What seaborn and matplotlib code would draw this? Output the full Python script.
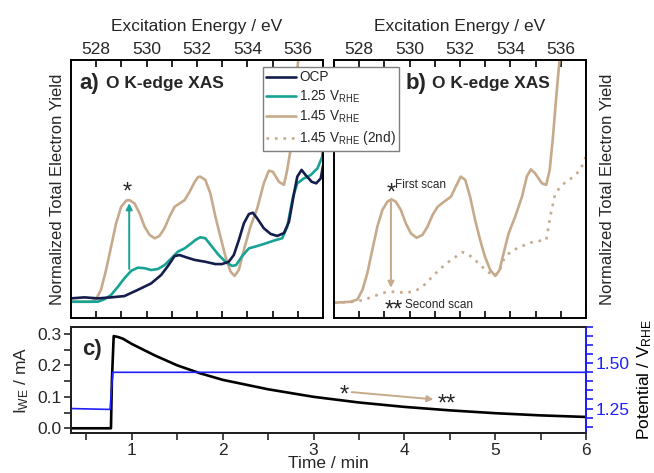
import numpy as np
import pandas as pd
import matplotlib
matplotlib.use("Agg")
import matplotlib.pyplot as plt
from matplotlib.lines import Line2D
import seaborn as sns

# ---------------- data ----------------
# panel a (normalized TEY, 0..1 of the axis height)
e_tan_a = [527.00, 527.80, 527.99, 528.19, 528.39, 528.59, 528.79, 528.99, 529.19, 529.32,
           529.52, 529.72, 529.92, 530.12, 530.32, 530.51, 530.71, 530.91, 531.11, 531.31,
           531.51, 531.71, 531.91, 532.04, 532.13, 532.33, 532.53, 532.73, 532.93, 533.13,
           533.33, 533.49, 533.66, 533.86, 534.12, 534.39, 534.65, 534.85, 535.01, 535.25,
           535.45, 535.58, 535.71, 535.85, 536.02, 536.30]
y_tan_a = [0.063, 0.063, 0.072, 0.109, 0.186, 0.276, 0.367, 0.431, 0.455, 0.457,
           0.444, 0.406, 0.354, 0.322, 0.309, 0.318, 0.348, 0.393, 0.431, 0.444,
           0.457, 0.490, 0.528, 0.546, 0.548, 0.535, 0.483, 0.393, 0.315, 0.238,
           0.180, 0.163, 0.186, 0.264, 0.354, 0.425, 0.522, 0.571, 0.567, 0.528,
           0.516, 0.574, 0.651, 0.850, 1.000, 1.350]

e_ocp = [527.00, 527.53, 528.06, 528.59, 529.12, 529.65, 530.18, 530.58, 530.85, 531.11,
         531.31, 531.58, 531.91, 532.33, 532.73, 532.99, 533.26, 533.46, 533.66, 533.86,
         534.06, 534.22, 534.39, 534.65, 534.92, 535.18, 535.45, 535.65, 535.85, 535.98,
         536.15, 536.31, 536.55, 536.73, 536.91, 537.00]
y_ocp = [0.076, 0.080, 0.076, 0.080, 0.085, 0.109, 0.134, 0.167, 0.202, 0.240,
         0.244, 0.235, 0.225, 0.218, 0.209, 0.209, 0.218, 0.244, 0.302, 0.367,
         0.403, 0.408, 0.386, 0.348, 0.326, 0.318, 0.329, 0.373, 0.483, 0.548,
         0.574, 0.554, 0.528, 0.522, 0.541, 0.590]

e_125 = [527.00, 528.06, 528.33, 528.59, 528.86, 529.12, 529.39, 529.65, 529.92, 530.18,
         530.45, 530.71, 530.98, 531.24, 531.51, 531.77, 531.93, 532.13, 532.33, 532.60,
         532.86, 533.13, 533.39, 533.55, 533.79, 534.06, 534.39, 534.72, 535.05, 535.38,
         535.58, 535.81, 535.98, 536.24, 536.51, 536.78, 536.97, 537.00]
y_125 = [0.063, 0.063, 0.073, 0.089, 0.121, 0.154, 0.183, 0.195, 0.193, 0.186,
         0.190, 0.205, 0.231, 0.257, 0.270, 0.289, 0.302, 0.313, 0.309, 0.276,
         0.244, 0.218, 0.202, 0.205, 0.240, 0.270, 0.279, 0.289, 0.300, 0.309,
         0.354, 0.470, 0.522, 0.541, 0.554, 0.580, 0.625, 0.660]

# panel b
e_tan_b = [527.00, 527.66, 527.93, 528.13, 528.32, 528.52, 528.72, 528.92, 529.12, 529.28,
           529.45, 529.65, 529.85, 530.05, 530.28, 530.51, 530.71, 530.91, 531.11, 531.37,
           531.64, 531.83, 532.03, 532.21, 532.40, 532.60, 532.80, 532.99, 533.20, 533.40,
           533.57, 533.73, 533.93, 534.19, 534.46, 534.65, 534.81, 534.98, 535.25, 535.42,
           535.56, 535.69, 535.82, 535.95, 536.20]
y_tan_b = [0.059, 0.063, 0.072, 0.109, 0.173, 0.264, 0.354, 0.419, 0.451, 0.460,
           0.451, 0.419, 0.367, 0.328, 0.311, 0.322, 0.354, 0.399, 0.431, 0.451,
           0.470, 0.509, 0.548, 0.535, 0.470, 0.380, 0.302, 0.238, 0.186, 0.163,
           0.186, 0.251, 0.328, 0.393, 0.470, 0.548, 0.576, 0.561, 0.522, 0.516,
           0.574, 0.703, 0.858, 1.000, 1.350]

e_2nd = [527.00, 527.79, 528.19, 528.59, 528.99, 529.38, 529.78, 530.18, 530.51, 530.84,
         531.24, 531.64, 532.10, 532.27, 532.54, 532.80, 533.06, 533.33, 533.53, 533.73,
         534.00, 534.39, 534.92, 535.42, 535.58, 535.78, 536.05, 536.51, 536.77, 537.00]
y_2nd = [0.059, 0.063, 0.070, 0.085, 0.098, 0.102, 0.098, 0.102, 0.121, 0.154,
         0.193, 0.225, 0.255, 0.250, 0.231, 0.205, 0.183, 0.163, 0.173, 0.225,
         0.257, 0.276, 0.296, 0.302, 0.393, 0.483, 0.516, 0.548, 0.574, 0.625]

# panel c
t_cur = [0.33, 0.77, 0.78, 0.80, 0.85, 0.90, 1.00, 1.25, 1.50, 1.75, 2.00, 2.50, 3.00,
         3.50, 4.00, 4.50, 5.00, 5.50, 6.00]
i_cur = [0.000, 0.000, 0.150, 0.293, 0.290, 0.285, 0.268, 0.232, 0.200, 0.175, 0.154,
         0.124, 0.100, 0.082, 0.068, 0.057, 0.048, 0.041, 0.036]
t_pot = [0.33, 0.76, 0.79, 6.00]
u_pot = [1.25, 1.245, 1.45, 1.45]

xticks_e = [528, 530, 532, 534, 536]

# ---------------- style ----------------
sns.set_theme(style="ticks")
plt.rcParams["font.family"] = ["Liberation Sans", "DejaVu Sans"]
plt.rcParams["mathtext.fontset"] = "custom"
plt.rcParams["mathtext.rm"] = "Liberation Sans"
plt.rcParams["mathtext.it"] = "Liberation Sans:italic"
plt.rcParams["mathtext.bf"] = "Liberation Sans:bold"

c_navy = "#141d4c"
c_teal = "#17a394"
c_tan = "#c6aa8b"
c_blue = "#1f1fff"

fig = plt.figure(figsize=(6.54, 4.73), dpi=100)
W, H = 654, 473
def ax_at(x0, y0, x1, y1):
    return fig.add_axes([x0 / W, 1 - y1 / H, (x1 - x0) / W, (y1 - y0) / H])

axa = ax_at(71, 60, 323, 318)
axb = ax_at(334, 60, 586, 318)
axc = ax_at(71, 327, 586, 433)

lw = 1.9
def line(ax, x, y, color, **kw):
    df = pd.DataFrame({"x": x, "y": y})
    sns.lineplot(data=df, x="x", y="y", ax=ax, color=color, linewidth=lw,
                 estimator=None, sort=False, **kw)

line(axa, e_tan_a, y_tan_a, c_tan)
line(axa, e_125, y_125, c_teal)
line(axa, e_ocp, y_ocp, c_navy)
line(axb, e_tan_b, y_tan_b, c_tan)
line(axb, e_2nd, y_2nd, c_tan, linestyle=(0, (1, 2.2)))

for ax in (axa, axb):
    ax.set_xlim(527, 537)
    ax.set_ylim(0, 1)
    ax.set_xticks(xticks_e)
    ax.set_xticks(np.arange(527, 538, 1), minor=True)
    ax.set_yticks([])
    ax.tick_params(axis="x", which="both", direction="in", top=True, bottom=True,
                   labeltop=True, labelbottom=False, length=5, width=1.2, labelsize=12.5,
                   color="black", pad=2)
    ax.xaxis.set_label_position("top")
    ax.set_xlabel("Excitation Energy / eV", fontsize=12.5, labelpad=8)
    for s in ax.spines.values():
        s.set_linewidth(1.4)
        s.set_color("black")
        s.set_visible(True)

axa.set_ylabel("Normalized Total Electron Yield", fontsize=12, labelpad=4)
axb.yaxis.set_label_position("right")
axb.set_ylabel("Normalized Total Electron Yield", fontsize=12, labelpad=10, rotation=90)

# panel labels
axa.text(527.32, 0.91, "a)", fontsize=16, fontweight="bold", va="center")
axa.text(528.38, 0.91, "O K-edge XAS", fontsize=12.5, fontweight="bold", va="center")
axb.text(529.85, 0.91, "b)", fontsize=16, fontweight="bold", va="center")
axb.text(530.9, 0.91, "O K-edge XAS", fontsize=12.5, fontweight="bold", va="center")

# annotations a
axa.annotate("", xy=(529.31, 0.445), xytext=(529.31, 0.19),
             arrowprops=dict(arrowstyle="-|>", color=c_teal, lw=1.4, mutation_scale=9,
                             shrinkA=0, shrinkB=0))
axa.text(529.25, 0.445, "*", fontsize=17, ha="center", va="bottom")

# annotations b
axb.annotate("", xy=(529.26, 0.117), xytext=(529.26, 0.45),
             arrowprops=dict(arrowstyle="-|>", color=c_tan, lw=1.4, mutation_scale=9,
                             shrinkA=0, shrinkB=0))
axb.text(529.26, 0.44, "*", fontsize=17, ha="center", va="bottom")
axb.text(529.42, 0.515, "First scan", fontsize=8.5, ha="left", va="center")
axb.text(529.36, 0.03, "**", fontsize=17, ha="center", va="center")
axb.text(529.8, 0.05, "Second scan", fontsize=8.5, ha="left", va="center")

# legend spanning the panels
handles = [Line2D([], [], color=c_navy, lw=lw),
           Line2D([], [], color=c_teal, lw=lw),
           Line2D([], [], color=c_tan, lw=lw),
           Line2D([], [], color=c_tan, lw=lw, linestyle=(0, (1, 2.2)))]
labels = ["OCP", "1.25 V$_{\\mathrm{RHE}}$", "1.45 V$_{\\mathrm{RHE}}$",
          "1.45 V$_{\\mathrm{RHE}}$ (2nd)"]
leg = fig.legend(handles, labels, loc="upper left", bbox_to_anchor=(263 / W, 1 - 67 / H),
                 fontsize=9.8, frameon=True, fancybox=False, borderpad=0.25,
                 labelspacing=0.3, handlelength=2.2, handletextpad=0.2,
                 borderaxespad=0)
leg.get_frame().set_edgecolor("#7f7f7f")
leg.get_frame().set_linewidth(1.0)
leg.get_frame().set_facecolor("white")
leg.get_frame().set_alpha(1)

# ---------------- panel c ----------------
line(axc, t_cur, i_cur, "black")
axc.set_xlim(0.33, 6.0)
axc.set_ylim(-0.015, 0.322)
axc.set_xticks([1, 2, 3, 4, 5, 6])
axc.set_xticks(np.arange(0.5, 6.01, 0.5), minor=True)
axc.set_yticks([0.0, 0.1, 0.2, 0.3])
axc.set_yticks([0.05, 0.15, 0.25], minor=True)
axc.tick_params(axis="both", which="both", direction="out", length=5, width=1.2,
                labelsize=12.5, pad=2)
axc.set_xlabel("Time / min", fontsize=12.5, labelpad=-1)
axc.set_ylabel("I$_{\\mathrm{WE}}$ / mA", fontsize=12.5, labelpad=4)
for s in axc.spines.values():
    s.set_linewidth(1.4)
    s.set_color("black")
axc.text(0.45, 0.25, "c)", fontsize=16, fontweight="bold", va="center")

axr = axc.twinx()
line(axr, t_pot, u_pot, c_blue)
axr.lines[-1].set_linewidth(1.2)
axr.set_ylim(1.115, 1.70)
axr.set_yticks([1.25, 1.50])
axr.set_yticks(np.arange(1.15, 1.701, 0.05), minor=True)
axr.set_yticklabels(["1.25", "1.50"])
axr.tick_params(axis="y", which="both", direction="out", length=5, width=1.2,
                colors=c_blue, labelsize=12.5, pad=2)
axr.spines["right"].set_color(c_blue)
axr.spines["right"].set_linewidth(1.4)
axr.set_ylabel("Potential / V$_{\\mathrm{RHE}}$", fontsize=12.5, color="black", labelpad=4)

# annotation c
axc.text(3.34, 0.105, "*", fontsize=17, ha="center", va="center")
axc.annotate("", xy=(4.32, 0.092), xytext=(3.42, 0.115),
             arrowprops=dict(arrowstyle="-|>", color=c_tan, lw=1.4, mutation_scale=9,
                             shrinkA=0, shrinkB=0))
axc.text(4.47, 0.075, "**", fontsize=17, ha="center", va="center")

fig.savefig("out.png", dpi=100)
